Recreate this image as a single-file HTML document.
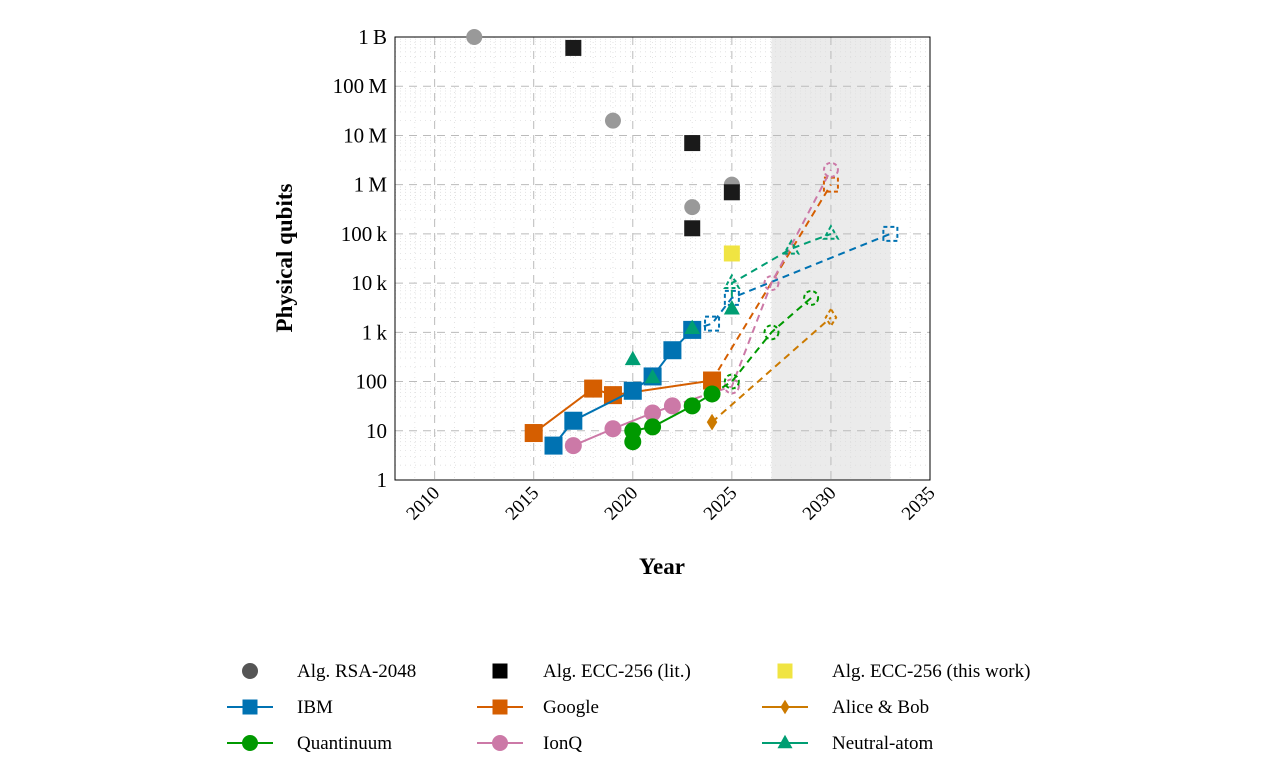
<!DOCTYPE html>
<html><head><meta charset="utf-8"><style>
body{margin:0;background:#fff;width:1280px;height:766px;overflow:hidden;font-family:"Liberation Serif",serif}
</style></head><body>
<svg id="c" width="1280" height="766" xmlns="http://www.w3.org/2000/svg"></svg>
<script>
const xTicks=[2010,2015,2020,2025,2030,2035];
const yTicks=[1,10,100,1e3,1e4,1e5,1e6,1e7,1e8,1e9];
const yLabels=["1","10","100","1\u2009k","10\u2009k","100\u2009k","1\u2009M","10\u2009M","100\u2009M","1\u2009B"];
const rsaYears=[2012,2019,2023,2025];
const rsaVals=[1e9,2e7,3.5e5,1e6];
const eccYears=[2017,2023,2023,2025];
const eccVals=[6e8,7e6,1.3e5,7e5];
const thisYears=[2025];
const thisVals=[4e4];
const ibmYears=[2016,2017,2020,2021,2022,2023];
const ibmVals=[5,16,65,127,433,1121];
const ibmProjYears=[2023,2024,2025,2033];
const ibmProjVals=[1121,1500,5000,1e5];
const googleYears=[2015,2018,2019,2024];
const googleVals=[9,72,53,105];
const googleProjYears=[2024,2030];
const googleProjVals=[105,1e6];
const ionqYears=[2017,2019,2021,2022];
const ionqVals=[5,11,23,32];
const ionqProjYears=[2022,2025,2027,2030];
const ionqProjVals=[32,80,1e4,2e6];
const quantYears=[2020,2021,2023,2024];
const quantVals=[10,12,32,56];
const quantExtraYears=[2020];
const quantExtraVals=[6];
const quantProjYears=[2024,2025,2027,2029];
const quantProjVals=[56,100,1e3,5e3];
const abYears=[2024];
const abVals=[15];
const abProjYears=[2024,2030];
const abProjVals=[15,2e3];
const naYears=[2020,2021,2023,2025];
const naVals=[280,120,1200,3000];
const naProjYears=[2025,2025,2028,2030];
const naProjVals=[3000,1e4,5e4,1e5];

const X0=395,X1=930,Y0=480,Y1=37;
const xs=y=>X0+(y-2008)*(X1-X0)/27;
const ys=v=>Y0-Math.log10(v)*(Y0-Y1)/9;
const svg=document.getElementById('c');
const NS="http://www.w3.org/2000/svg";
function el(t,a){const e=document.createElementNS(NS,t);for(const k in a)e.setAttribute(k,a[k]);svg.appendChild(e);return e;}
let sh=el('rect',{x:xs(2027),y:Y1,width:xs(2033)-xs(2027),height:Y0-Y1,fill:'#ebebeb'});


for(let d=0;d<9;d++)for(let m=2;m<10;m++){const y=ys(m*Math.pow(10,d));el('line',{x1:X0,x2:X1,y1:y,y2:y,stroke:'#ddd','stroke-width':0.8,'stroke-dasharray':'1,4'});}
for(let yr=2009;yr<2035;yr++){if(yr%5==0)continue;el('line',{x1:xs(yr),x2:xs(yr),y1:Y1,y2:Y0,stroke:'#ddd','stroke-width':0.8,'stroke-dasharray':'1,4'});}
xTicks.forEach(t=>{el('line',{x1:xs(t),x2:xs(t),y1:Y1,y2:Y0,stroke:'#bbb','stroke-width':1,'stroke-dasharray':'8,6'});});
yTicks.forEach(t=>{el('line',{x1:X0,x2:X1,y1:ys(t),y2:ys(t),stroke:'#bbb','stroke-width':1,'stroke-dasharray':'8,6'});});
let fr=el('rect',{x:X0,y:Y1,width:X1-X0,height:Y0-Y1,fill:'none',stroke:'#000','stroke-width':1});


yTicks.forEach((t,i)=>{const tx=el('text',{x:X0-8,y:ys(t)+7,'text-anchor':'end','font-size':21});tx.textContent=yLabels[i];

});
xTicks.forEach(t=>{const tx=el('text',{x:xs(t)+6,y:Y0+14,'text-anchor':'end','font-size':19,transform:`rotate(-45 ${xs(t)+6} ${Y0+14})`});tx.textContent=t;

});
let xt=el('text',{x:662,y:574,'text-anchor':'middle','font-size':23,'font-weight':'bold'});xt.textContent='Year';


let yt=el('text',{x:292,y:258,'text-anchor':'middle','font-size':23,'font-weight':'bold',transform:'rotate(-90 292 258)'});yt.textContent='Physical qubits';



function marker(shape,cx,cy,color,hollow,s,name){
  const a=hollow?{fill:'none',stroke:color,'stroke-width':2,'stroke-dasharray':'4,3'}:{fill:color,stroke:'none'};
  let e;
  if(shape=='c')e=el('circle',Object.assign({cx:cx,cy:cy,r:s},a));
  else if(shape=='s')e=el('rect',Object.assign({x:cx-s,y:cy-s,width:2*s,height:2*s},a));
  else if(shape=='t')e=el('polygon',Object.assign({points:`${cx},${cy-s*1.1} ${cx-s},${cy+s*0.7} ${cx+s},${cy+s*0.7}`},a));
  else e=el('polygon',Object.assign({points:`${cx},${cy-s*1.2} ${cx-s*0.75},${cy} ${cx},${cy+s*1.2} ${cx+s*0.75},${cy}`},a));
  
  
  return e;
}
function drawLine(yrs,vals,color,dash,name){
  const l=el('polyline',{points:yrs.map((y,i)=>xs(y)+','+ys(vals[i])).join(' '),fill:'none',stroke:color,'stroke-width':2,'stroke-dasharray':dash?'7,5':'none'});
  
  
}
function series(yrs,vals,shape,color,name,size,connect){
  if(connect)drawLine(yrs,vals,color,false,name+'-line');
  yrs.forEach((y,i)=>marker(shape,xs(y),ys(vals[i]),color,false,size,name+'-point'));
}
function proj(yrs,vals,shape,color,name){
  drawLine(yrs,vals,color,true,name+'-projection-line');
  yrs.forEach((y,i)=>{if(i>0)marker(shape,xs(y),ys(vals[i]),color,true,7,name+'-projection-point');});
}
const C={ibm:'#0072b2',goo:'#d55e00',ion:'#cc79a7',qu:'#009900',ab:'#cc7a00',na:'#009e73'};
proj(ibmProjYears,ibmProjVals,'s',C.ibm,'ibm');
proj(googleProjYears,googleProjVals,'s',C.goo,'google');
proj(ionqProjYears,ionqProjVals,'c',C.ion,'ionq');
proj(quantProjYears,quantProjVals,'c',C.qu,'quantinuum');
proj(abProjYears,abProjVals,'d',C.ab,'alice-bob');
proj(naProjYears,naProjVals,'t',C.na,'neutral-atom');
series(rsaYears,rsaVals,'c','#999','rsa-2048',8,false);
series(eccYears,eccVals,'s','#1a1a1a','ecc-lit',8,false);
series(thisYears,thisVals,'s','#f0e442','ecc-this-work',8,false);
series(googleYears,googleVals,'s',C.goo,'google',9,true);
series(ibmYears,ibmVals,'s',C.ibm,'ibm',9,true);
series(ionqYears,ionqVals,'c',C.ion,'ionq',8.5,true);
series(quantYears,quantVals,'c',C.qu,'quantinuum',8.5,true);
series(quantExtraYears,quantExtraVals,'c',C.qu,'quantinuum',8.5,false);
series(abYears,abVals,'d',C.ab,'alice-bob',7,false);
series(naYears,naVals,'t',C.na,'neutral-atom',8,false);

const legNames=["Alg. RSA-2048","Alg. ECC-256 (lit.)","Alg. ECC-256 (this work)","IBM","Google","Alice & Bob","Quantinuum","IonQ","Neutral-atom"];
const legShapes=['c','s','s','s','s','d','c','c','t'];
const legColors=['#555','#000','#f0e442',C.ibm,C.goo,C.ab,C.qu,C.ion,C.na];
const legLine=[0,0,0,1,1,1,1,1,1];
const colMx=[250,500,785],colTx=[297,543,832],rowY=[671,707,743];
legNames.forEach((n,i)=>{
  const cx=colMx[i%3],cy=rowY[Math.floor(i/3)];
  if(legLine[i]){const ll=el('line',{x1:cx-23,x2:cx+23,y1:cy,y2:cy,stroke:legColors[i],'stroke-width':2});
    
    }
  marker(legShapes[i],cx,cy,legColors[i],false,legShapes[i]=='c'?8:legShapes[i]=='d'?6:7.5,'legend-marker');
  const t=el('text',{x:colTx[i%3],y:cy+6,'font-size':19});
  t.textContent=n;
  
  
});
</script>
</body></html>
